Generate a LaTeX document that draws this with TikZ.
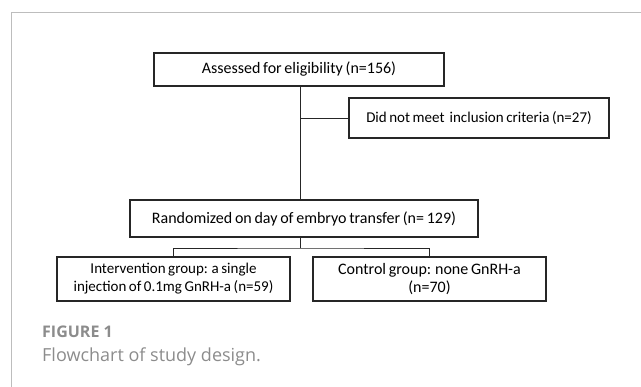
\documentclass[tikz,border=0pt]{standalone}
\usepackage{fontspec}
\setmainfont{Carlito}
\newfontfamily\capfont{Open Sans}
\usepackage{tikz}
\usetikzlibrary{positioning}
\usetikzlibrary{calc}
\definecolor{framegray}{HTML}{BDBDBD}
\definecolor{captiongray}{HTML}{8C8C8C}
\definecolor{boxline}{HTML}{262626}
\newcommand{\boxfont}[1]{\fontsize{#1}{18}\selectfont\spaceskip=0.17em plus 0.05em minus 0.03em\relax}
\tikzset{stepbox/.style={draw=boxline, line width=1.2pt, align=center, inner sep=0pt, font=\boxfont{16}}}
\tikzset{link/.style={draw=boxline, line width=0.9pt}}

\begin{document}
\begin{tikzpicture}[x=1pt,y=-1pt]
\useasboundingbox (0,0) rectangle (641,387);
\draw[framegray, line width=1pt] (11,387) -- (11,13) -- (641,13); %page frame

\node[stepbox, minimum width=290pt, minimum height=33pt] (assess) at (299,69.5) {Assessed for eligibility (n=156)};
\node[stepbox, font=\boxfont{15}, minimum width=260pt, minimum height=40pt] (exclude) at (479,118) {Did not meet\ \ inclusion criteria (n=27)};
\node[stepbox, minimum width=348pt, minimum height=37pt] (random) at (304,218.5) {Randomized on day of embryo transfer (n= 129)};
\node[stepbox, font=\boxfont{15}, minimum width=233pt, minimum height=44pt] (interv) at (173.5,279) {Intervention group: a single\\injection of 0.1mg GnRH-a (n=59)};
\node[stepbox, minimum width=233pt, minimum height=44pt] (control) at (429.5,279) {Control group: none GnRH-a\\(n=70)};

\coordinate (trunk) at (300,117);
\coordinate (fork) at (300,248);
\draw[link] (assess.south -| trunk) -- (random.north -| trunk);
\draw[link] (exclude.west -| trunk) -- (exclude.west);
\draw[link] (random.south -| fork) -- (fork);
\draw[link] (interv.north) |- (fork) -| (control.north);

\node[anchor=base west, inner sep=0pt, text=captiongray, font=\capfont\bfseries\fontsize{16}{17}\selectfont] (figno) at (42,338) {FIGURE 1};
\node[anchor=base west, inner sep=0pt, text=captiongray, font=\capfont\fontsize{18}{20}\selectfont] (figcap) at (42,362) {Flowchart of study design.};
\end{tikzpicture}
\end{document}
